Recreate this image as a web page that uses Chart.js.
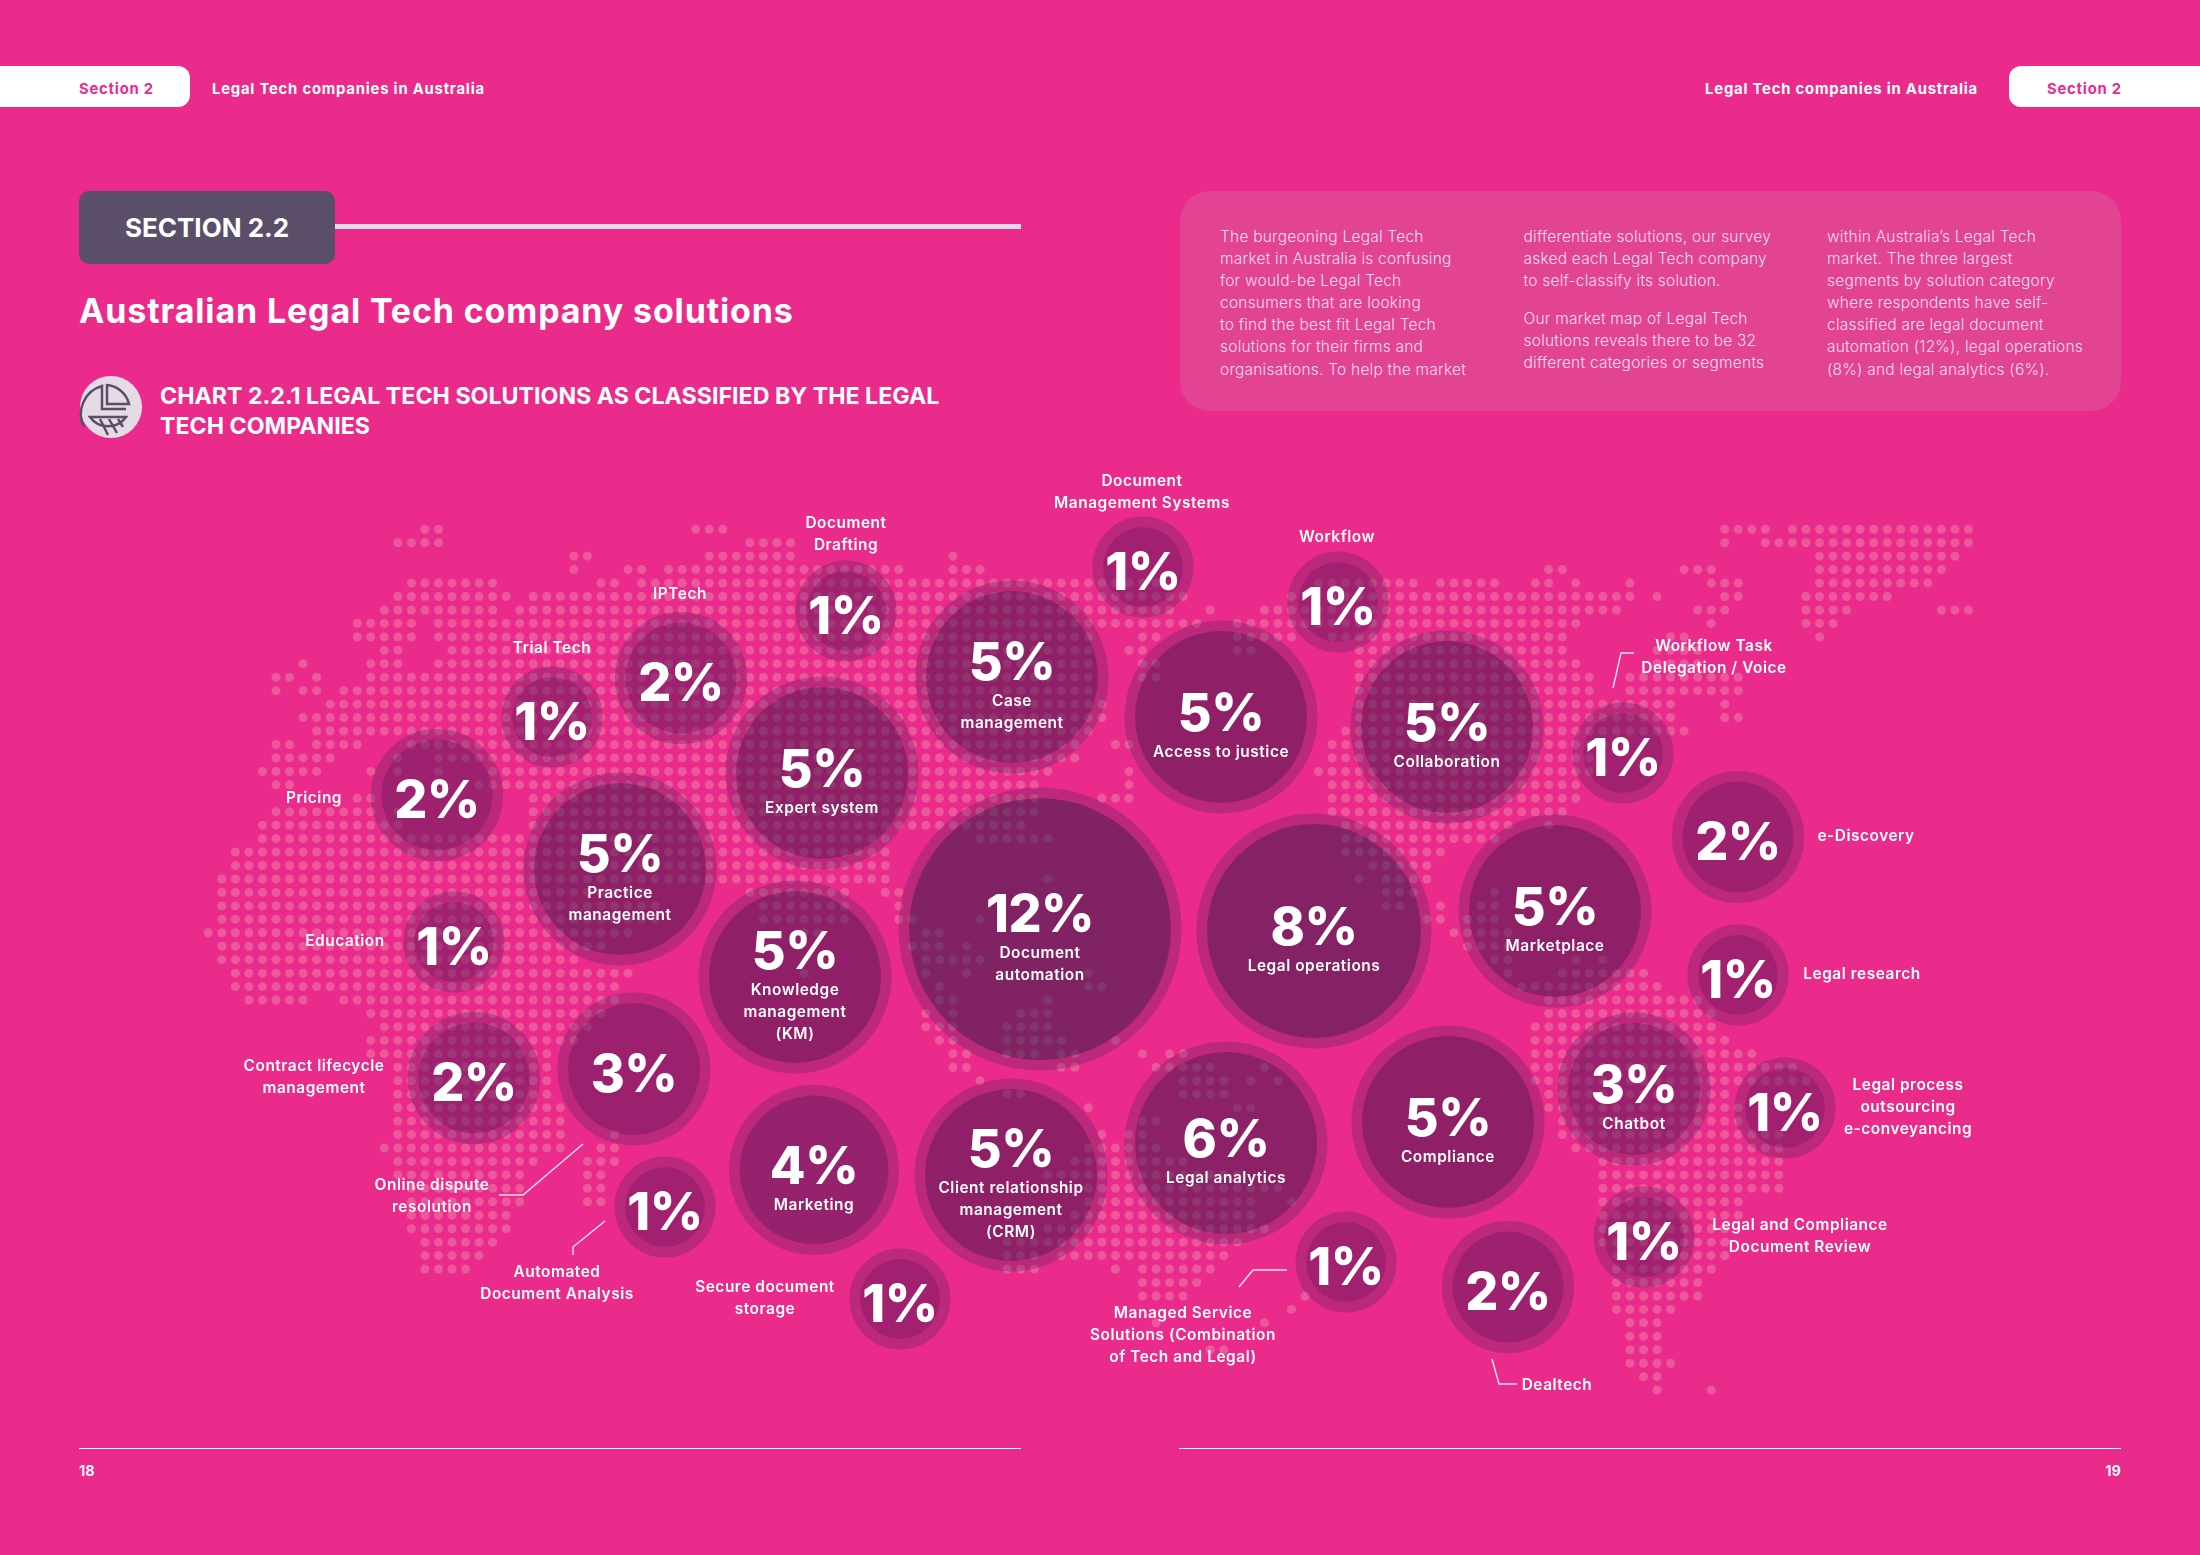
<!DOCTYPE html>
<html>
<head>
<meta charset="utf-8">
<title>Australian Legal Tech company solutions</title>
<script src="https://cdn.jsdelivr.net/npm/chart.js@4"></script>
<style>
  html, body { margin: 0; padding: 0; background: #ea2b8c; }
  body { position: relative; width: 2200px; height: 1555px; overflow: hidden; font-family: Inter, sans-serif; color: #fff; }
  #canvas1 { position: absolute; left: 0; top: 0; }
  .abs { position: absolute; white-space: nowrap; }
  .tab { position: absolute; background: #fff; top: 66px; height: 41px; width: 190px; }
  .tabtext { font-weight: 700; font-size: 14.8px; line-height: 20px; top: 79px; letter-spacing: 0.8px; }
  .col { position: absolute; top: 226px; font-size: 15.5px; font-weight: 300; line-height: 22.1px; color: #fbdcec; white-space: nowrap; letter-spacing: 0.22px; }
</style>
</head>
<body>
<div class="tab" style="left:0;border-radius:0 12px 12px 0"></div>
<div class="abs tabtext" style="left:79px;color:#ea2b8c">Section 2</div>
<div class="abs tabtext" style="left:212px">Legal Tech companies in Australia</div>
<div class="tab" style="left:2009px;border-radius:12px 0 0 12px;width:191px"></div>
<div class="abs tabtext" style="left:2047px;color:#ea2b8c">Section 2</div>
<div class="abs tabtext" style="right:222px">Legal Tech companies in Australia</div>

<div class="abs" style="left:79px;top:191px;width:256px;height:73px;background:#5b4e68;border-radius:10px;text-align:center;line-height:73px;font-size:26px;font-weight:700">SECTION 2.2</div>
<div class="abs" style="left:335px;top:224px;width:686px;height:5px;background:#e6dae6"></div>
<div class="abs" style="left:79px;top:289px;font-size:34px;font-weight:700;line-height:44px;letter-spacing:0.85px">Australian Legal Tech company solutions</div>

<svg class="abs" style="left:76px;top:375px" width="70" height="68" viewBox="0 0 70 68">
  <circle cx="35" cy="32" r="31" fill="#e4dbe5"/>
  <g fill="none" stroke="#5b4e68" stroke-width="2.5">
    <path d="M8 52 A 29 29 0 0 1 26 11 L 26 34 L 50 34"/>
    <path d="M31 10 A 25 25 0 0 1 53 29 L 31 29 Z"/>
    <path d="M14 42 L 50 42 A 22 22 0 0 1 14 42 Z"/>
    <path d="M24 44 L 32 60 M33 44 L 41 58 M42 44 L 47 52"/>
  </g>
</svg>
<div class="abs" style="left:160px;top:382px;font-size:23.2px;font-weight:700;line-height:29.5px">CHART 2.2.1 LEGAL TECH SOLUTIONS AS CLASSIFIED BY THE LEGAL<br>TECH COMPANIES</div>

<div class="abs" style="left:1180px;top:191px;width:941px;height:220px;background:#e24393;border-radius:30px"></div>
<div class="col" style="left:1220px">The burgeoning Legal Tech<br>market in Australia is confusing<br>for would-be Legal Tech<br>consumers that are looking<br>to find the best fit Legal Tech<br>solutions for their firms and<br>organisations. To help the market</div>
<div class="col" style="left:1523.5px">differentiate solutions, our survey<br>asked each Legal Tech company<br>to self-classify its solution.</div>
<div class="col" style="left:1523.5px;top:308px">Our market map of Legal Tech<br>solutions reveals there to be 32<br>different categories or segments</div>
<div class="col" style="left:1827px">within Australia’s Legal Tech<br>market. The three largest<br>segments by solution category<br>where respondents have self-<br>classified are legal document<br>automation (12%), legal operations<br>(8%) and legal analytics (6%).</div>

<canvas id="canvas1" width="2200" height="1555"></canvas>

<div class="abs" style="left:79px;top:1448px;width:942px;height:1px;background:#fff"></div>
<div class="abs" style="left:1179px;top:1448px;width:942px;height:1px;background:#fff"></div>
<div class="abs" style="left:79px;top:1461px;font-size:14.5px;font-weight:700;line-height:20px">18</div>
<div class="abs" style="right:79px;top:1461px;font-size:14.5px;font-weight:700;line-height:20px">19</div>

<script>
var solutions = [
  "Document\nManagement Systems",
  "Workflow",
  "Access to justice",
  "Collaboration",
  "Document\nDrafting",
  "Case\nmanagement",
  "Expert system",
  "IPTech",
  "Trial Tech",
  "Pricing",
  "Practice\nmanagement",
  "Education",
  "Knowledge\nmanagement\n(KM)",
  "Document\nautomation",
  "Legal operations",
  "Marketplace",
  "Workflow Task\nDelegation / Voice",
  "e-Discovery",
  "Legal research",
  "Chatbot",
  "Legal process\noutsourcing\ne-conveyancing",
  "Legal and Compliance\nDocument Review",
  "Dealtech",
  "Compliance",
  "Managed Service\nSolutions (Combination\nof Tech and Legal)",
  "Legal analytics",
  "Client relationship\nmanagement\n(CRM)",
  "Marketing",
  "Secure document\nstorage",
  "Automated\nDocument Analysis",
  "Online dispute\nresolution",
  "Contract lifecycle\nmanagement",
];
var shares = [1, 1, 5, 5, 1, 5, 5, 2, 1, 2, 5, 1, 5, 12, 8, 5, 1, 2, 1, 3, 1, 1, 2, 5, 1, 6, 5, 4, 1, 1, 3, 2];
var bubbleX = [1143, 1338, 1221, 1447, 846, 1012, 822, 681, 552, 437, 620, 454, 795, 1040, 1314, 1555, 1623, 1738, 1738, 1634, 1785, 1644, 1508, 1448, 1346, 1226, 1011, 814, 900, 665, 634, 474];
var bubbleY = [567, 602, 717, 727, 611, 677, 773, 678, 717, 795, 869, 942, 977, 929, 931, 911, 753, 837, 975, 1089, 1108, 1237, 1287, 1122, 1262, 1143, 1175, 1170, 1299, 1207, 1069, 1078];

// dotted world map behind the bubbles, one string of column runs per row
var mapRows = [
  "16-17 36-38 112-115 117-130",
  "14-17 40-43 112 115-130",
  "27-28 37-43 55 119-129",
  "27 31-32 34-51 55-57 99-100 109-111 119-128",
  "15-21 29-30 32-70 82-89 91-95 98-99 101 105 111-113 119-127",
  "14-22 24-72 80 83-105 107 112-113 118-124",
  "13-21 23-71 74 78-104 110-112 118-121 128-130",
  "11-15 17-73 76-101 111 118-120",
  "11-15 17-65 69-70 76-80 83-100 108-109 119",
  "13-14 18-65 68-69 76-77 85-100 107-110",
  "7 12-14 17-65 69-70 85-101 107-110",
  "5-6 8 12-65 69-70 85-102 105-113",
  "5 7-8 10-65 85-102 105-113",
  "9-66 85-108 112",
  "7-66 85-108 112-113",
  "8-65 84-109",
  "5-6 8-11 15-64 67-68 83-103",
  "5-9 14 17-64 83-102",
  "4-8 12 14 17 21-62 68 82-103",
  "5-6 20-61 68 83-101",
  "11-12 24-61 66-68 83-101",
  "5-12 14 24-61 83-100",
  "4-14 24-60 84-96 99",
  "4-50 57-62 84-95",
  "2-50 84-91",
  "2-50 86-90",
  "1-50 62 85 87-90",
  "1-32 40-47 50-51 87-89 95",
  "1-33 41-47 51 87-88 91 94-95",
  "1-33 41-47 51-52 57 90-91 93-95",
  "0-31 44-45 53-54 92-96",
  "1-29 52-54 56 93-96",
  "1-27 53-57 95-96 101 103",
  "2-31 44 53 56 65 96 100-106",
  "2-30 54 65-66 97-107",
  "3-7 10-30 54-55 62 99-110",
  "12-29 53 55 60-62 99-111",
  "13-28 53-55 59-62 98-111",
  "12-27 54-55 59-63 67 98-112",
  "12-25 55-56 59-61 63-64 69 71-72 98-114",
  "14-25 55-56 63-64 70-74 78 98-117",
  "14-25 57 72-75 77 79 98-118",
  "14-25 59-60 72-75 99-112",
  "14-26 65 76-77 99-113",
  "14-26 69-70 100-113",
  "14-26 30 66 68-69 100-116",
  "13-26 29-30 65-70 101-116",
  "14-24 28-30 64-72 103-116",
  "14-23 28-29 62-76 103-116",
  "15-23 28-29 65-79 103-116",
  "15-23 28-29 65-77 80 103-113",
  "15-22 64-77 103-113",
  "15-22 62-78 103-112",
  "16-21 59-76 103-112",
  "16-20 59-61 63-75 104-112",
  "16-19 59-61 67 69-74 104-111",
  "69-73 104-110",
  "69-72 81 104-110",
  "80 104-108",
  "70 78 105-107",
  "105-107",
  "74-75 105-107",
  "105-108",
  "106-107",
  "107 111",
];

// where the labels that sit outside their bubble go, by solution name
var outsideLabels = {
  "Document\nManagement Systems": [1142, 480],
  "Workflow": [1337, 536],
  "Document\nDrafting": [846, 522],
  "IPTech": [680, 593],
  "Trial Tech": [552, 647],
  "Pricing": [314, 797],
  "Education": [345, 940],
  "Workflow Task\nDelegation / Voice": [1714, 645],
  "e-Discovery": [1866, 835],
  "Legal research": [1862, 973],
  "Legal process\noutsourcing\ne-conveyancing": [1908, 1084],
  "Legal and Compliance\nDocument Review": [1800, 1224],
  "Dealtech": [1557, 1384],
  "Managed Service\nSolutions (Combination\nof Tech and Legal)": [1183, 1312],
  "Secure document\nstorage": [765, 1286],
  "Automated\nDocument Analysis": [557, 1271],
  "Online dispute\nresolution": [432, 1184],
  "Contract lifecycle\nmanagement": [314, 1065],
};

var leaderLines = [
  [[499, 1195], [523, 1195], [583, 1144]],
  [[573, 1255], [573, 1247], [605, 1221]],
  [[1239, 1287], [1253, 1270], [1287, 1270]],
  [[1492, 1359], [1499, 1384], [1517, 1384]],
  [[1613, 688], [1621, 653], [1634, 653]],
];

var radiusByShare = { 1: 40, 2: 55.6, 3: 66, 4: 74.5, 5: 86, 6: 91, 8: 107, 12: 131 };
var fillByShare = {
  1: "rgba(101, 25, 89, 0.55)",
  2: "rgba(95, 25, 88, 0.55)",
  3: "rgba(90, 25, 85, 0.55)",
  4: "rgba(80, 25, 82, 0.55)",
  5: "rgba(68, 23, 74, 0.55)",
  6: "rgba(63, 25, 72, 0.55)",
  8: "rgba(50, 27, 70, 0.55)",
  12: "rgba(41, 28, 67, 0.55)",
};

var dots = [];
mapRows.forEach(function (row, r) {
  row.split(" ").forEach(function (run) {
    var ends = run.split("-").map(Number);
    for (var c = ends[0]; c <= ends[ends.length - 1]; c++) {
      dots.push({ x: c, y: r });
    }
  });
});

var bubbles = solutions.map(function (name, i) {
  return { x: bubbleX[i], y: bubbleY[i], r: radiusByShare[shares[i]] };
});
var rings = solutions.map(function (name, i) {
  return { x: bubbleX[i], y: bubbleY[i], r: radiusByShare[shares[i]] + 5.25 };
});

var labelFont = '600 15.4px Inter, sans-serif';
var valueFont = '800 52px Inter, sans-serif';
var lineGap = 22;

var bubbleText = {
  id: "bubbleText",
  afterDatasetsDraw: function (chart) {
    var ctx = chart.ctx;
    var sx = chart.scales.x;
    var sy = chart.scales.y;
    ctx.save();
    ctx.fillStyle = "#fff";
    ctx.textAlign = "center";
    ctx.textBaseline = "middle";
    solutions.forEach(function (name, i) {
      var lines = name.split("\n");
      var cx = sx.getPixelForValue(bubbleX[i]);
      var cy = sy.getPixelForValue(bubbleY[i]);
      var outside = outsideLabels[name];
      ctx.font = valueFont;
      ctx.letterSpacing = "-0.5px";
      var valueY = outside ? cy + 4 : cy + 6 - 11 * lines.length;
      ctx.fillText(shares[i] + "%", cx, valueY + 3);
      ctx.font = labelFont;
      ctx.letterSpacing = "0.55px";
      lines.forEach(function (line, k) {
        if (outside) {
          ctx.fillText(line, sx.getPixelForValue(outside[0]), sy.getPixelForValue(outside[1] + 1 + k * lineGap));
        } else {
          ctx.fillText(line, cx, valueY + 40 + k * lineGap);
        }
      });
    });
    ctx.restore();
  },
};

var datasets = [
  {
    type: "scatter",
    label: "map",
    data: dots,
    xAxisID: "col",
    yAxisID: "row",
    pointRadius: 4.5,
    pointBorderWidth: 0,
    pointBackgroundColor: "rgba(240, 255, 210, 0.22)",
    order: 4,
  },
  {
    label: "ring",
    data: rings,
    backgroundColor: "rgba(0, 0, 0, 0)",
    borderColor: "rgba(78, 33, 90, 0.3)",
    borderWidth: 10.5,
    order: 3,
  },
  {
    label: "share",
    data: bubbles,
    backgroundColor: shares.map(function (s) { return fillByShare[s]; }),
    borderWidth: 0,
    order: 2,
  },
];
leaderLines.forEach(function (line) {
  datasets.push({
    type: "scatter",
    label: "leader",
    showLine: true,
    data: line.map(function (p) { return { x: p[0], y: p[1] }; }),
    borderColor: "#f6e3ee",
    borderWidth: 1.4,
    pointRadius: 0,
    order: 1,
  });
});

new Chart("canvas1", {
  type: "bubble",
  data: { datasets: datasets },
  plugins: [bubbleText],
  options: {
    responsive: false,
    animation: false,
    events: [],
    layout: { padding: 0, autoPadding: false },
    plugins: { legend: { display: false }, tooltip: { enabled: false }, title: { display: false } },
    scales: {
      x: { type: "linear", display: false, min: 0, max: 2200 },
      y: { type: "linear", display: false, min: 0, max: 1555, reverse: true },
      col: { type: "linear", axis: "x", display: false, min: -15.384, max: 147.1 },
      row: { type: "linear", axis: "y", display: false, min: -39.35, max: 76.26, reverse: true },
    },
  },
});
</script>
</body>
</html>
